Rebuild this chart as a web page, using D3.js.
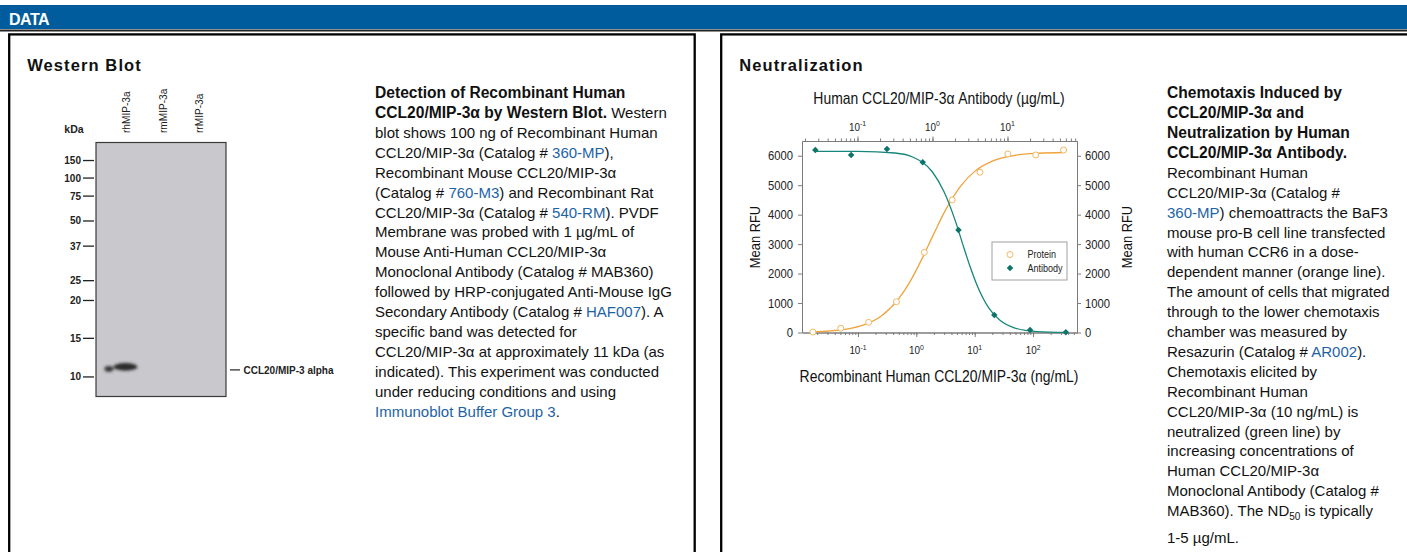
<!DOCTYPE html>
<html>
<head>
<meta charset="utf-8">
<script src="https://cdn.jsdelivr.net/npm/d3@7"></script>
<style>
body { margin: 0; background: #fff; }
svg { display: block; }
</style>
</head>
<body>
<svg id="page"></svg>
<script>
//Western blot: lanes, ladder and the band that was seen
var lanes = ['rhMIP-3a', 'rmMIP-3a', 'rrMIP-3a']
var markerKda = [150, 100, 75, 50, 37, 25, 20, 15, 10]
//relative migration of each ladder band (0 = top of membrane, 1 = bottom)
var markerRf = [0.071, 0.140, 0.211, 0.309, 0.408, 0.544, 0.622, 0.771, 0.923]
var bandKda = [11.3, null, null]
var bandName = 'CCL20/MIP-3 alpha'

//Neutralization: measured points
var proteinConc = [0.0169, 0.0508, 0.152, 0.457, 1.37, 4.12, 12.3, 37.0, 111, 333]
var proteinRfu = [15, 145, 345, 1045, 2720, 4500, 5440, 6060, 6025, 6195]
var antibodyConc = [0.0274, 0.0823, 0.247, 0.741, 2.22, 6.67, 20, 60]
var antibodyRfu = [6195, 6025, 6230, 5775, 3480, 595, 85, 8]

//fitted lines
var proteinFitConc = [0.017, 0.0316, 0.0631, 0.126, 0.251, 0.501, 0.794, 1.26, 2.0, 3.16, 5.62, 10, 20, 50.1, 126, 331]
var proteinFitRfu = [24, 51, 115, 258, 561, 1149, 1754, 2516, 3355, 4152, 4943, 5469, 5818, 6016, 6085, 6109]
var antibodyFitConc = [0.0275, 0.1, 0.316, 0.562, 1, 1.41, 2.0, 2.51, 3.16, 3.98, 5.62, 7.94, 12.6, 25.1, 60]
var antibodyFitRfu = [6150, 6146, 6092, 5941, 5448, 4801, 3813, 3026, 2247, 1568, 833, 413, 152, 33, 5]

//axes
var rfuTicks = [0, 1000, 2000, 3000, 4000, 5000, 6000]
var rfuMax = 6500
var proteinDomain = [0.011, 566]
var antibodyDomain = [0.0182, 84.5]
var proteinDecades = [-1, 0, 1, 2]
var antibodyDecades = [-1, 0, 1]
var seriesNames = ['Protein', 'Antibody']

var leftText = [
    [['Detection of Recombinant Human', 'b']],
    [['CCL20/MIP-3α by Western Blot.', 'b'], [' Western']],
    [['blot shows 100 ng of Recombinant Human']],
    [['CCL20/MIP-3α (Catalog # '], ['360-MP', 'a'], ['),']],
    [['Recombinant Mouse CCL20/MIP-3α']],
    [['(Catalog # '], ['760-M3', 'a'], [') and Recombinant Rat']],
    [['CCL20/MIP-3α (Catalog # '], ['540-RM', 'a'], ['). PVDF']],
    [['Membrane was probed with 1 µg/mL of']],
    [['Mouse Anti-Human CCL20/MIP-3α']],
    [['Monoclonal Antibody (Catalog # MAB360)']],
    [['followed by HRP-conjugated Anti-Mouse IgG']],
    [['Secondary Antibody (Catalog # '], ['HAF007', 'a'], ['). A']],
    [['specific band was detected for']],
    [['CCL20/MIP-3α at approximately 11 kDa (as']],
    [['indicated). This experiment was conducted']],
    [['under reducing conditions and using']],
    [['Immunoblot Buffer Group 3', 'a'], ['.']]
]
var rightText = [
    [['Chemotaxis Induced by', 'b']],
    [['CCL20/MIP-3α and', 'b']],
    [['Neutralization by Human', 'b']],
    [['CCL20/MIP-3α Antibody.', 'b']],
    [['Recombinant Human']],
    [['CCL20/MIP-3α (Catalog #']],
    [['360-MP', 'a'], [') chemoattracts the BaF3']],
    [['mouse pro-B cell line transfected']],
    [['with human CCR6 in a dose-']],
    [['dependent manner (orange line).']],
    [['The amount of cells that migrated']],
    [['through to the lower chemotaxis']],
    [['chamber was measured by']],
    [['Resazurin (Catalog # '], ['AR002', 'a'], [').']],
    [['Chemotaxis elicited by']],
    [['Recombinant Human']],
    [['CCL20/MIP-3α (10 ng/mL) is']],
    [['neutralized (green line) by']],
    [['increasing concentrations of']],
    [['Human CCL20/MIP-3α']],
    [['Monoclonal Antibody (Catalog #']],
    [['MAB360). The ND'], ['50', 'sub'], [' is typically']],
    [['1-5 µg/mL.']]
]

var width = 1407
var height = 552
var sans = '"Liberation Sans", Arial, Helvetica, sans-serif'
var linkColor = '#1d63a6'
var orange = '#f0a33c'
var orangeLight = '#f2b763'
var teal = '#17877b'
var tealDark = '#0c7468'

var svg = d3.select('#page').attr('width', width).attr('height', height)

// no condensed face is installed, so squeeze the chart texts sideways
function squeeze(sel, k) {
    sel.each(function () {
        var t = d3.select(this)
        var x = +t.attr('x') || 0
        var tr = t.attr('transform') || ''
        t.attr('x', x / k).attr('transform', tr + ' scale(' + k + ',1)')
    })
}

// header bar and the two panels
svg.append('rect').attr('x', 0).attr('y', 5).attr('width', width).attr('height', 24).attr('fill', '#005c9c')
svg.append('text').attr('x', 9).attr('y', 24.5).text('DATA')
    .attr('fill', '#fff').attr('font-family', sans).attr('font-weight', 'bold')
    .attr('font-size', 16).attr('letter-spacing', -0.5)
svg.append('rect').attr('x', 0).attr('y', 29.5).attr('width', width).attr('height', 2).attr('fill', '#222')

var panels = [{ x: 9.2, w: 685.5, title: 'Western Blot' }, { x: 721.2, w: 700, title: 'Neutralization' }]
svg.selectAll('rect.panel').data(panels).enter().append('rect')
    .attr('class', 'panel')
    .attr('x', function (p) { return p.x }).attr('y', 34.4)
    .attr('width', function (p) { return p.w }).attr('height', 600)
    .attr('fill', 'none').attr('stroke', '#000').attr('stroke-width', 2.3)
svg.selectAll('text.title').data(panels).enter().append('text')
    .attr('class', 'title')
    .attr('x', function (p) { return p.x + 18 }).attr('y', 70.5)
    .text(function (p) { return p.title })
    .attr('font-family', sans).attr('font-weight', 'bold').attr('font-size', 16.5)
    .attr('letter-spacing', 1.1).attr('fill', '#111')

// paragraph helper: each line is a list of [text, kind] pieces
function writeLines(x, y0, lineH, lines, extraLast) {
    var t = svg.append('text').attr('font-family', sans).attr('font-size', 15).attr('fill', '#111')
    lines.forEach(function (line, i) {
        var y = y0 + i * lineH + (i === lines.length - 1 ? extraLast : 0)
        line.forEach(function (piece, j) {
            var s = t.append('tspan').text(piece[0])
            if (j === 0) s.attr('x', x).attr('y', y)
            if (piece[1] === 'b') s.attr('font-weight', 'bold').attr('font-size', 15.6)
            if (piece[1] === 'a') s.attr('fill', linkColor)
            if (piece[1] === 'sub') {
                s.attr('font-size', 10).attr('dy', 4)
            } else if (j > 0 && line[j - 1][1] === 'sub') {
                s.attr('dy', -4)
            }
        })
    })
}
writeLines(375, 97.8, 19.95, leftText, 0)
writeLines(1167, 98.2, 19.9, rightText, 6.5)

// ---------- western blot ----------
var gel = { x0: 96, x1: 226, y0: 142.5, y1: 396.5 }
var rf = d3.scaleLinear().domain([0, 1]).range([gel.y0, gel.y1])
var kdaY = d3.scaleLinear().domain(markerKda).range(markerRf.map(rf))
var lane = d3.scalePoint().domain(lanes).range([gel.x0, gel.x1]).padding(0.8)

var defs = svg.append('defs')
defs.append('filter').attr('id', 'blur').attr('x', '-50%').attr('y', '-100%').attr('width', '200%').attr('height', '300%')
    .append('feGaussianBlur').attr('stdDeviation', 1.8)

var blot = svg.append('g').attr('class', 'blot')
blot.append('rect').attr('x', gel.x0).attr('y', gel.y0)
    .attr('width', gel.x1 - gel.x0).attr('height', gel.y1 - gel.y0)
    .attr('fill', '#c9c9cd').attr('stroke', '#3a3a3a').attr('stroke-width', 1.2)

var laneText = blot.selectAll('text.lane').data(lanes).enter().append('text')
    .attr('class', 'lane')
    .attr('transform', function (d) { return 'translate(' + (lane(d) + 5.5) + ',133) rotate(-90)' })
    .text(function (d) { return d })
    .attr('font-family', sans).attr('font-size', 11).attr('fill', '#222')
squeeze(laneText, 0.92)

blot.append('text').attr('x', 74).attr('y', 132.7).text('kDa')
    .attr('text-anchor', 'middle').attr('font-family', sans).attr('font-weight', 'bold')
    .attr('font-size', 10.5).attr('fill', '#222')

var markers = blot.selectAll('g.marker').data(markerKda).enter().append('g')
    .attr('class', 'marker')
    .attr('transform', function (k) { return 'translate(0,' + kdaY(k) + ')' })
markers.append('line').attr('x1', 83).attr('x2', 94).attr('stroke', '#222').attr('stroke-width', 1.3)
markers.append('text').attr('x', 81).attr('y', 3.5).attr('text-anchor', 'end')
    .text(function (k) { return k })
    .attr('font-family', sans).attr('font-weight', 'bold').attr('font-size', 10).attr('fill', '#222')

var bands = lanes.map(function (l, i) { return { lane: l, kda: bandKda[i] } })
    .filter(function (b) { return b.kda !== null })
var bandG = blot.selectAll('g.band').data(bands).enter().append('g')
    .attr('class', 'band')
    .attr('transform', function (b) { return 'translate(' + lane(b.lane) + ',' + kdaY(b.kda) + ')' })
    .attr('filter', 'url(#blur)')
bandG.append('ellipse').attr('cx', 0.5).attr('cy', 0).attr('rx', 12).attr('ry', 3.8).attr('fill', '#2b2b2b')
bandG.append('ellipse').attr('cx', -16).attr('cy', 2).attr('rx', 4.5).attr('ry', 2.8).attr('fill', '#383838')

var bandLabel = blot.selectAll('g.bandlabel').data(bands).enter().append('g')
    .attr('class', 'bandlabel')
    .attr('transform', function (b) { return 'translate(0,' + (kdaY(b.kda) + 3) + ')' })
bandLabel.append('line').attr('x1', 230).attr('x2', 240).attr('stroke', '#222').attr('stroke-width', 1.2)
bandLabel.append('text').attr('x', 243.5).attr('y', 3.6).text(bandName)
    .attr('font-family', sans).attr('font-weight', 'bold').attr('font-size', 10).attr('fill', '#222')

// ---------- neutralization chart ----------
var plot = { left: 802, right: 1077, top: 141, bottom: 332.5 }
var y = d3.scaleLinear().domain([0, rfuMax]).range([plot.bottom, plot.top])
var xProtein = d3.scaleLog().domain(proteinDomain).range([plot.left, plot.right])
var xAntibody = d3.scaleLog().domain(antibodyDomain).range([plot.left, plot.right])

var chart = svg.append('g').attr('class', 'chart')

function styleAxis(g) {
    g.selectAll('path, line').attr('stroke', '#7c7c7c').attr('stroke-width', 1)
    g.selectAll('text').attr('font-family', sans).attr('font-size', 12.5).attr('fill', '#222')
    squeeze(g.selectAll('text'), 0.9)
}

// log axes: minor ticks, then decades
chart.append('g').attr('transform', 'translate(0,' + plot.bottom + ')')
    .call(d3.axisBottom(xProtein).tickValues(xProtein.ticks()).tickSize(2.5).tickSizeOuter(0).tickFormat(''))
    .call(styleAxis)
chart.append('g').attr('transform', 'translate(0,' + plot.bottom + ')')
    .call(d3.axisBottom(xProtein).tickValues(proteinDecades.map(function (d) { return Math.pow(10, d) })).tickSize(4.5).tickSizeOuter(0).tickFormat(''))
    .call(styleAxis)
chart.append('g').attr('transform', 'translate(0,' + plot.top + ')')
    .call(d3.axisTop(xAntibody).tickValues(xAntibody.ticks()).tickSize(2.5).tickSizeOuter(0).tickFormat(''))
    .call(styleAxis)
chart.append('g').attr('transform', 'translate(0,' + plot.top + ')')
    .call(d3.axisTop(xAntibody).tickValues(antibodyDecades.map(function (d) { return Math.pow(10, d) })).tickSize(4.5).tickSizeOuter(0).tickFormat(''))
    .call(styleAxis)
chart.append('g').attr('transform', 'translate(' + plot.left + ',0)')
    .call(d3.axisLeft(y).tickValues(rfuTicks).tickSize(4).tickPadding(5).tickSizeOuter(0).tickFormat(d3.format('d')))
    .call(styleAxis)
chart.append('g').attr('transform', 'translate(' + plot.right + ',0)')
    .call(d3.axisRight(y).tickValues(rfuTicks).tickSize(4).tickPadding(4).tickSizeOuter(0).tickFormat(d3.format('d')))
    .call(styleAxis)

// decade labels with superscripts
function decadeLabels(decades, scale, yPos) {
    var t = chart.selectAll(null).data(decades).enter().append('text')
        .attr('x', function (d) { return scale(Math.pow(10, d)) }).attr('y', yPos)
        .attr('text-anchor', 'middle').attr('font-family', sans).attr('font-size', 11.5).attr('fill', '#222')
    t.append('tspan').text('10')
    t.append('tspan').text(function (d) { return d < 0 ? '-' + (-d) : d })
        .attr('font-size', 8).attr('dy', -4.8)
    squeeze(t, 0.86)
}
decadeLabels(proteinDecades, xProtein, 354.5)
decadeLabels(antibodyDecades, xAntibody, 131)

// axis titles
var titles = chart.selectAll(null)
    .data([{ x: 939, y: 104, text: 'Human CCL20/MIP-3α Antibody (µg/mL)' },
        { x: 939, y: 382.5, text: 'Recombinant Human CCL20/MIP-3α (ng/mL)' }])
    .enter().append('text')
    .attr('x', function (d) { return d.x }).attr('y', function (d) { return d.y })
    .attr('text-anchor', 'middle').text(function (d) { return d.text })
    .attr('font-family', sans).attr('font-size', 16.2).attr('fill', '#111')
squeeze(titles, 0.86)
var rfuTitles = chart.selectAll(null).data([759.5, 1131.5]).enter().append('text')
    .attr('transform', function (d) { return 'translate(' + d + ',237) rotate(-90)' })
    .attr('text-anchor', 'middle').text('Mean RFU')
    .attr('font-family', sans).attr('font-size', 15).attr('fill', '#111')
squeeze(rfuTitles, 0.86)

// fitted lines
var proteinFit = proteinFitConc.map(function (c, i) { return [c, proteinFitRfu[i]] })
var antibodyFit = antibodyFitConc.map(function (c, i) { return [c, antibodyFitRfu[i]] })
chart.append('path').datum(proteinFit)
    .attr('d', d3.line().curve(d3.curveMonotoneX)
        .x(function (d) { return xProtein(d[0]) }).y(function (d) { return y(d[1]) }))
    .attr('fill', 'none').attr('stroke', orange).attr('stroke-width', 1.3)
chart.append('path').datum(antibodyFit)
    .attr('d', d3.line().curve(d3.curveMonotoneX)
        .x(function (d) { return xAntibody(d[0]) }).y(function (d) { return y(d[1]) }))
    .attr('fill', 'none').attr('stroke', teal).attr('stroke-width', 1.3)

// points
var diamond = d3.symbol().type(d3.symbolSquare).size(21)
chart.selectAll('circle.protein').data(proteinConc).enter().append('circle')
    .attr('class', 'protein')
    .attr('cx', function (c) { return xProtein(c) })
    .attr('cy', function (c, i) { return y(proteinRfu[i]) })
    .attr('r', 3).attr('fill', '#fff').attr('stroke', orangeLight).attr('stroke-width', 1)
chart.selectAll('path.antibody').data(antibodyConc).enter().append('path')
    .attr('class', 'antibody')
    .attr('transform', function (c, i) { return 'translate(' + xAntibody(c) + ',' + y(antibodyRfu[i]) + ') rotate(45)' })
    .attr('d', diamond).attr('fill', tealDark)

// legend
var legend = chart.append('g').attr('transform', 'translate(992,242)')
legend.append('rect').attr('width', 75).attr('height', 38)
    .attr('fill', '#fff').attr('stroke', '#a0a0a0').attr('stroke-width', 1)
var entries = legend.selectAll('g.entry').data(seriesNames).enter().append('g')
    .attr('class', 'entry')
    .attr('transform', function (d, i) { return 'translate(0,' + (12.5 + i * 13.5) + ')' })
entries.filter(function (d, i) { return i === 0 }).append('circle')
    .attr('cx', 18).attr('r', 3).attr('fill', '#fff').attr('stroke', orangeLight).attr('stroke-width', 1)
entries.filter(function (d, i) { return i === 1 }).append('path')
    .attr('transform', 'translate(18,0) rotate(45)').attr('d', diamond).attr('fill', tealDark)
var legendText = entries.append('text').attr('x', 35.5).attr('y', 3.6).text(function (d) { return d })
    .attr('font-family', sans).attr('font-size', 10.5).attr('fill', '#222')
squeeze(legendText, 0.86)
</script>
</body>
</html>
